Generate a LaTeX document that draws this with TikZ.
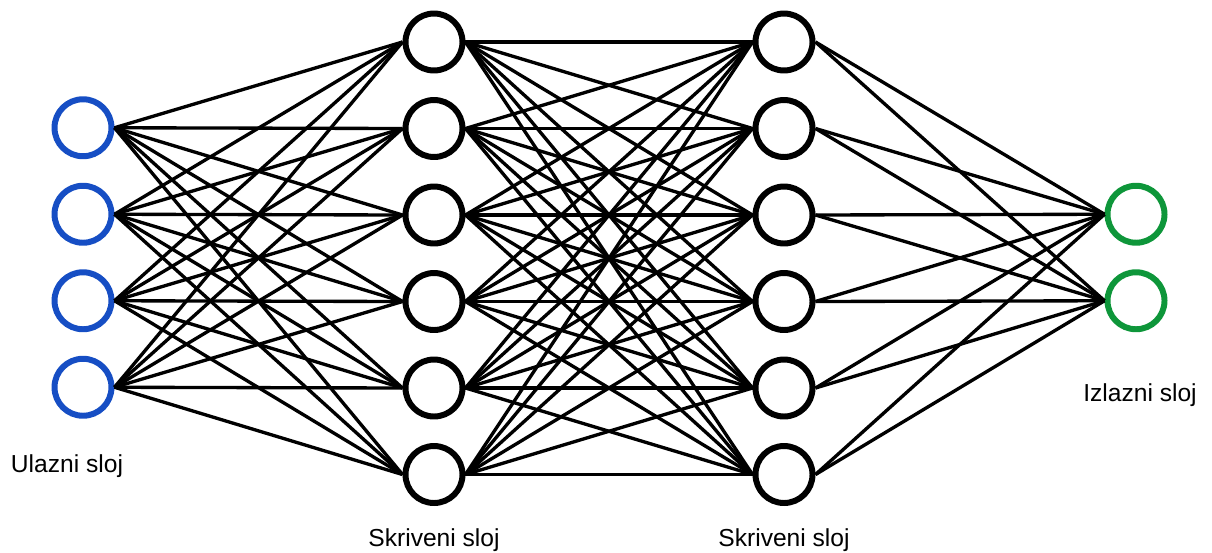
\documentclass[tikz,border=0pt]{standalone}
\usepackage{fontspec}
\setmainfont{Liberation Sans}
\usetikzlibrary{positioning}

\definecolor{inblue}{RGB}{22,78,196}
\definecolor{outgreen}{RGB}{14,150,58}

\begin{document}
\begin{tikzpicture}[x=0.02cm, y=-0.02cm,
        neuron/.style={draw, circle, line width=3.4pt, minimum size=1.14cm, inner sep=0pt, fill=white},
        synapse/.style={line width=1.9pt},
        layer label/.style={font=\fontsize{14}{16}\selectfont, inner sep=0pt}]
        \useasboundingbox (0,0) rectangle (1212,552);

        % input layer
        \foreach \i in {1,...,4}
            \node[neuron, draw=inblue] (in\i) at (83, {127.75+86.5*(\i-1)}) {};
        % hidden layers
        \foreach \i in {1,...,6} {
            \node[neuron] (ha\i) at (434, {42+86.5*(\i-1)}) {};
            \node[neuron] (hb\i) at (784, {42+86.5*(\i-1)}) {};
        }
        % output layer
        \foreach \i in {1,2}
            \node[neuron, draw=outgreen] (out\i) at (1136, {214.25+86.5*(\i-1)}) {};

        % connections
        \foreach \j in {1,...,6} {
            \foreach \i in {1,...,4}
                \draw[synapse] (in\i.east) -- (ha\j.west);
            \foreach \k in {1,...,6}
                \draw[synapse] (ha\j.east) -- (hb\k.west);
            \foreach \o in {1,2}
                \draw[synapse] (hb\j.east) -- (out\o.west);
        }

        \node[layer label] (in label) at (67, 466) {Ulazni sloj};
        \node[layer label] (ha label) at (434, 540) {Skriveni sloj};
        \node[layer label] (hb label) at (784, 540) {Skriveni sloj};
        \node[layer label] (out label) at (1140, 395) {Izlazni sloj};
    \end{tikzpicture}
\end{document}
